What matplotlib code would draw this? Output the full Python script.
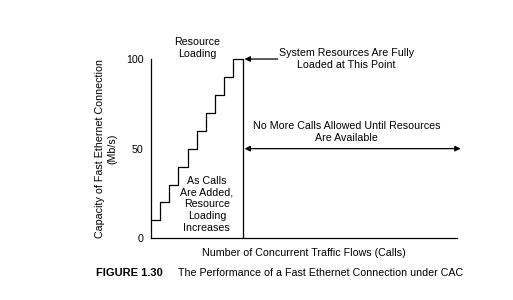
import matplotlib
matplotlib.use("Agg")
import matplotlib.pyplot as plt

plt.rcParams['font.family'] = ['Liberation Sans', 'DejaVu Sans']

calls = [0, 1, 2, 3, 4, 5, 6, 7, 8, 9, 10]
capacity = [10, 20, 30, 40, 50, 60, 70, 80, 90, 100, 100]
full_point = 10
yticks = [0, 50, 100]
x_max = 33.3

FS = 7.7

fig = plt.figure(figsize=(5.13, 3.0), dpi=100)
ax = fig.add_axes([0.2938, 0.2057, 0.8908 - 0.2938, 0.8033 - 0.2057])
ax.step(calls, capacity, where='post', color='black', lw=0.9, clip_on=False)
ax.vlines(full_point, 0, 100, color='black', lw=0.9, clip_on=False)
ax.set_xlim(0, x_max)
ax.set_ylim(0, 100)
for s in ['top', 'right']:
    ax.spines[s].set_visible(False)
for s in ['left', 'bottom']:
    ax.spines[s].set_linewidth(0.9)
ax.set_xticks([])
ax.set_yticks(yticks)
ax.tick_params(axis='y', length=0, pad=5, labelsize=FS)
ax.set_ylabel('Capacity of Fast Ethernet Connection\n(Mb/s)', fontsize=FS, labelpad=6, linespacing=1.35)
ax.set_xlabel('Number of Concurrent Traffic Flows (Calls)', fontsize=FS, labelpad=7)

ax.text(5.1, 100, 'Resource\nLoading', ha='center', va='bottom', fontsize=FS, linespacing=1.3, clip_on=False)
ax.text(6.1, 3, 'As Calls\nAre Added,\nResource\nLoading\nIncreases', ha='center', va='bottom',
        fontsize=FS, linespacing=1.22)

ax.annotate('', xy=(10.2, 100), xytext=(13.8, 100),
            arrowprops=dict(arrowstyle='-|>', color='black', lw=0.9, mutation_scale=8,
                            shrinkA=0, shrinkB=0), annotation_clip=False)
ax.text(21.3, 100, 'System Resources Are Fully\nLoaded at This Point', ha='center', va='center',
        fontsize=FS, linespacing=1.25, clip_on=False)
ax.annotate('', xy=(10.2, 50), xytext=(33.7, 50),
            arrowprops=dict(arrowstyle='<|-|>', color='black', lw=0.9, mutation_scale=8,
                            shrinkA=0, shrinkB=0), annotation_clip=False)
ax.text(21.3, 59.5, 'No More Calls Allowed Until Resources\nAre Available', ha='center', va='center',
        fontsize=FS, linespacing=1.25)

fig.text(96 / 513, 1 - 272.5 / 300, 'FIGURE 1.30', fontsize=8, fontweight='bold', ha='left', va='center')
fig.text(178 / 513, 1 - 272.5 / 300, 'The Performance of a Fast Ethernet Connection under CAC',
         fontsize=FS, ha='left', va='center')

fig.savefig('out.png', dpi=100)
